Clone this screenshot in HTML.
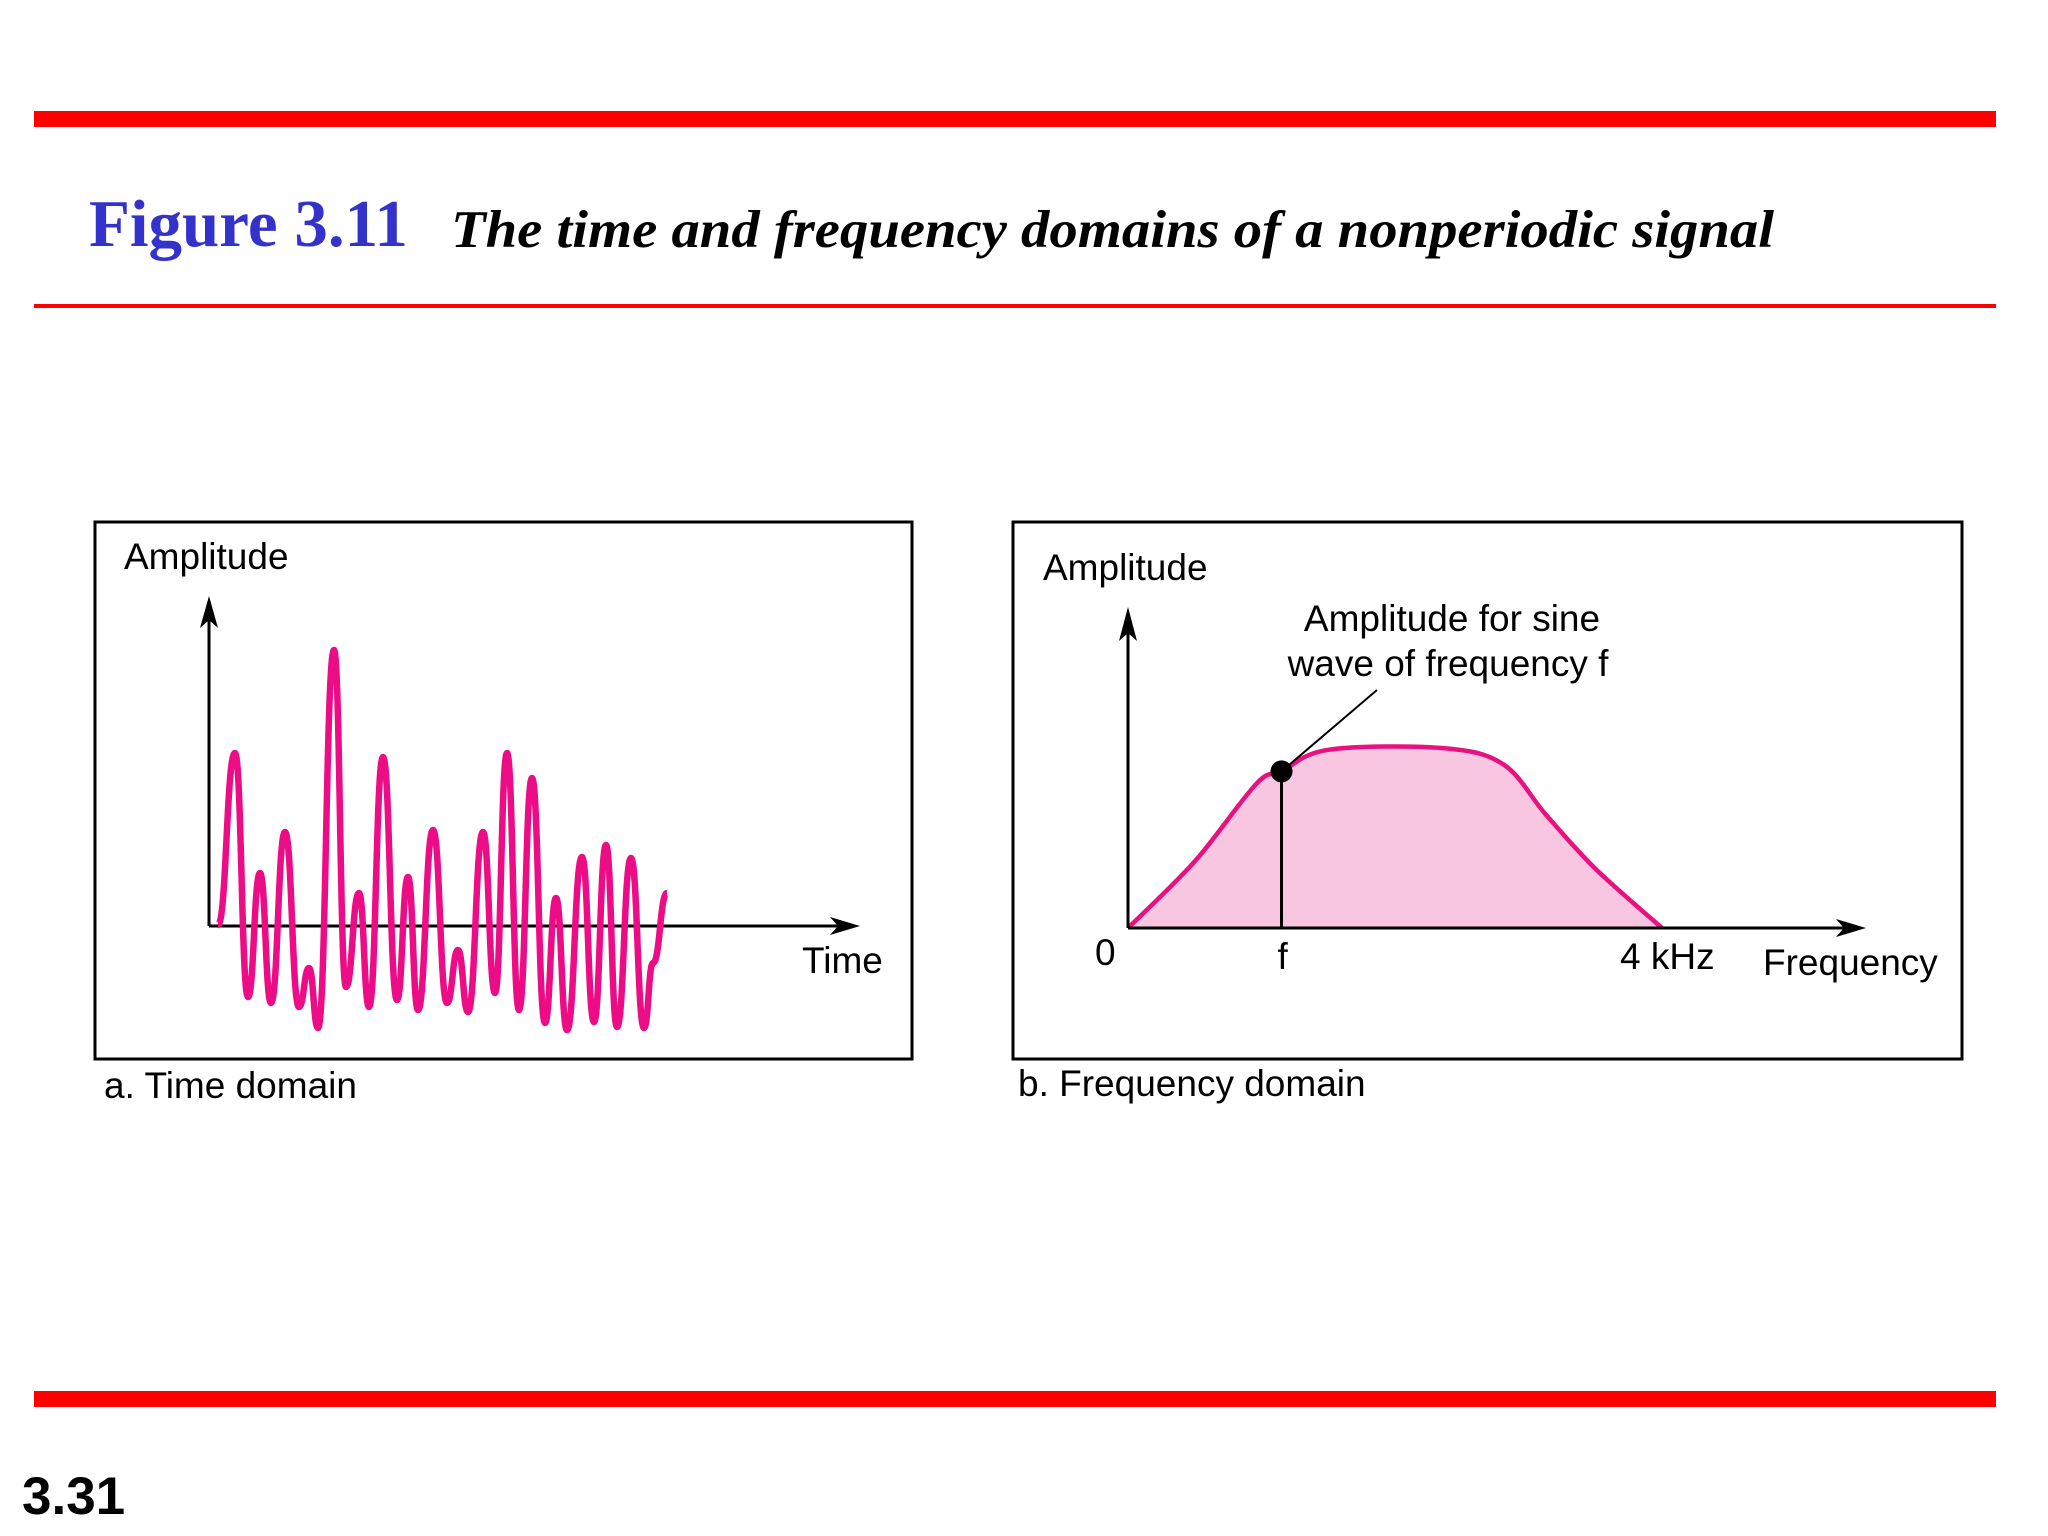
<!DOCTYPE html>
<html><head><meta charset="utf-8"><style>
html,body{margin:0;padding:0;background:#fff;}
#root{position:relative;width:2048px;height:1536px;overflow:hidden;background:#fff;}
</style></head><body>
<div id="root">
<svg width="2048" height="1536" viewBox="0 0 2048 1536" xmlns="http://www.w3.org/2000/svg">
<rect x="34" y="111" width="1962" height="16" fill="#ff0000"/>
<rect x="34" y="304" width="1962" height="4" fill="#ff0000"/>
<rect x="34" y="1391" width="1962" height="16" fill="#ff0000"/>
<text x="89" y="246" font-family="Liberation Serif, serif" font-weight="bold" font-size="67" fill="#3333cc">Figure 3.11</text>
<text x="451" y="247" font-family="Liberation Serif, serif" font-weight="bold" font-style="italic" font-size="53" fill="#000" textLength="1323" lengthAdjust="spacingAndGlyphs">The time and frequency domains of a nonperiodic signal</text>
<text x="22" y="1514" font-family="Liberation Sans, sans-serif" font-weight="bold" font-size="53" fill="#000">3.31</text>

<g id="panelA">
<rect x="95" y="522" width="817" height="537" fill="none" stroke="#000" stroke-width="3"/>
<text x="124" y="569" font-family="Liberation Sans, sans-serif" font-size="37" fill="#000">Amplitude</text>
<text x="802" y="973" font-family="Liberation Sans, sans-serif" font-size="37" fill="#000">Time</text>
<text x="104" y="1098" font-family="Liberation Sans, sans-serif" font-size="37" fill="#000">a. Time domain</text>
<line x1="209" y1="926" x2="209" y2="612" stroke="#000" stroke-width="3"/>
<polygon points="209,596 200,628 209,620 218,628" fill="#000"/>
<line x1="209" y1="926" x2="845" y2="926" stroke="#000" stroke-width="3"/>
<polygon points="860,926 830,917 838,926 830,935" fill="#000"/>
<path id="signal" fill="none" stroke="#ec0c86" stroke-width="6.5" stroke-linejoin="round"/>
</g>

<g id="panelB">
<rect x="1013" y="522" width="949" height="537" fill="none" stroke="#000" stroke-width="3"/>
<text x="1043" y="580" font-family="Liberation Sans, sans-serif" font-size="37" fill="#000">Amplitude</text>
<text x="1452" y="631" text-anchor="middle" font-family="Liberation Sans, sans-serif" font-size="37" fill="#000">Amplitude for sine</text>
<text x="1448" y="676" text-anchor="middle" font-family="Liberation Sans, sans-serif" font-size="37" fill="#000">wave of frequency f</text>
<path id="fillArea" fill="#f9c6e1" stroke="none"/>
<path id="spectrum" fill="none" stroke="#e8117f" stroke-width="4.5"/>
<line x1="1128" y1="928" x2="1128" y2="625" stroke="#000" stroke-width="3"/>
<polygon points="1128,607 1119,641 1128,633 1137,641" fill="#000"/>
<line x1="1128" y1="928" x2="1850" y2="928" stroke="#000" stroke-width="3"/>
<polygon points="1866,928 1836,919 1844,928 1836,937" fill="#000"/>
<line id="fLine" y2="928" stroke="#000" stroke-width="3"/>
<line id="leader" x1="1377" y1="690" stroke="#000" stroke-width="2"/>
<circle id="fDot" r="11" fill="#000"/>
<text x="1095" y="965" font-family="Liberation Sans, sans-serif" font-size="37" fill="#000">0</text>
<text id="tickF" y="969" font-family="Liberation Sans, sans-serif" font-size="37" fill="#000">f</text>
<text x="1620" y="969" font-family="Liberation Sans, sans-serif" font-size="37" fill="#000">4 kHz</text>
<text x="1763" y="975" font-family="Liberation Sans, sans-serif" font-size="37" fill="#000">Frequency</text>
<text x="1018" y="1096" font-family="Liberation Sans, sans-serif" font-size="37" fill="#000">b. Frequency domain</text>
</g>
</svg>
</div>
<script>
// Time-domain signal (time units, amplitude units)
const timeValues = [0.9,2.6,3.9,5.1,6.2,7.6,9.0,10.0,10.9,12.5,13.7,15.0,16.0,17.4,18.8,19.9,20.9,22.4,23.8,24.9,25.9,27.4,28.6,29.8,31.0,32.3,33.6,34.7,35.8,37.3,38.5,39.7,40.8,42.2,43.5,44.4,45.8];
const ampValues = [0.01,1.73,-0.71,0.53,-0.77,0.94,-0.81,-0.42,-1.02,2.76,-0.61,0.33,-0.81,1.69,-0.74,0.49,-0.84,0.96,-0.77,-0.24,-0.86,0.94,-0.67,1.73,-0.84,1.48,-0.97,0.28,-1.04,0.69,-0.96,0.81,-1.01,0.68,-1.02,-0.37,0.33];
// Frequency-domain spectrum (kHz, relative amplitude)
const freqValues = [0,0.5,0.96,1.15,1.5,2.35,2.81,3.13,3.5,4.0];
const specValues = [0,0.37,0.80,0.87,0.99,1.0,0.91,0.63,0.33,0];
const markerFreq = 1.15;
const markerAmp = 0.87;

function tx(t){return 209 + t*10;}
function ty(a){return 926 - a*100;}
function fx(f){return 1128 + f*133.5;}
function fy(a){return 928 - a*180;}

function smoothPath(xs, ys){
  let d = 'M' + xs[0] + ',' + ys[0];
  for(let i=1;i<xs.length;i++){
    const dx = (xs[i]-xs[i-1])/2;
    d += ' C' + (xs[i-1]+dx) + ',' + ys[i-1] + ' ' + (xs[i]-dx) + ',' + ys[i] + ' ' + xs[i] + ',' + ys[i];
  }
  return d;
}
function catmull(xs, ys){
  let d = 'M' + xs[0] + ',' + ys[0];
  for(let i=0;i<xs.length-1;i++){
    const x0=xs[Math.max(i-1,0)], y0=ys[Math.max(i-1,0)];
    const x1=xs[i], y1=ys[i], x2=xs[i+1], y2=ys[i+1];
    const x3=xs[Math.min(i+2,xs.length-1)], y3=ys[Math.min(i+2,xs.length-1)];
    d += ' C' + (x1+(x2-x0)/6) + ',' + (y1+(y2-y0)/6) + ' ' + (x2-(x3-x1)/6) + ',' + (y2-(y3-y1)/6) + ' ' + x2 + ',' + y2;
  }
  return d;
}
const sx = timeValues.map(tx), sy = ampValues.map(ty);
document.getElementById('signal').setAttribute('d', smoothPath(sx, sy));

const px = freqValues.map(fx), py = specValues.map(fy);
const sd = catmull(px, py);
document.getElementById('spectrum').setAttribute('d', sd);
document.getElementById('fillArea').setAttribute('d', sd + ' L' + px[0] + ',' + fy(0) + ' Z');

const mx = fx(markerFreq), my = fy(markerAmp);
const dot = document.getElementById('fDot');
dot.setAttribute('cx', mx); dot.setAttribute('cy', my);
const fl = document.getElementById('fLine');
fl.setAttribute('x1', mx); fl.setAttribute('x2', mx); fl.setAttribute('y1', my);
const ld = document.getElementById('leader');
ld.setAttribute('x2', mx); ld.setAttribute('y2', my);
document.getElementById('tickF').setAttribute('x', mx - 4);
</script>
</body></html>
